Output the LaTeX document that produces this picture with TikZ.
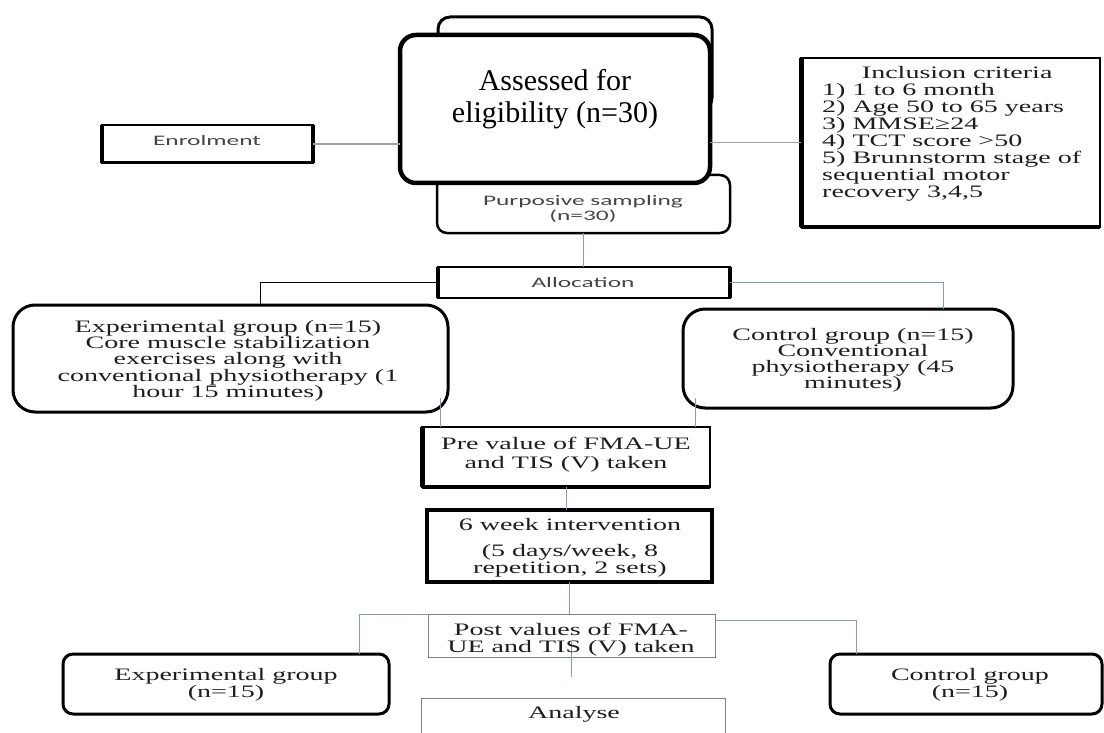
\documentclass[tikz,border=0pt]{standalone}
\usepackage{fontspec}
\setmainfont{Liberation Serif}
\newfontfamily\wser[FakeStretch=1.6]{Liberation Serif}
\newfontfamily\wsan[FakeStretch=1.75]{Carlito}
\newfontfamily\bigser{Liberation Serif}
\definecolor{linec}{HTML}{7F9CC0}
\definecolor{greyline}{HTML}{A0A0A0}
\definecolor{txt}{HTML}{1E1E1E}
\definecolor{stxt}{HTML}{454545}
\tikzset{
 bx/.style={draw=black, fill=white, inner sep=0pt, outer sep=0pt},
 rbx/.style={bx, rounded corners=#1},
 sertext/.style={font=\wser\fontsize{17.5}{16.5}\selectfont, text=txt, inner sep=0pt},
 santext/.style={font=\wsan\fontsize{14.5}{15}\selectfont, text=stxt, inner sep=0pt},
 conn/.style={draw=linec, line width=0.9pt},
 gconn/.style={draw=greyline, line width=1.2pt},
 kconn/.style={draw=black, line width=0.9pt},
}
\begin{document}
\begin{tikzpicture}[x=1pt,y=-1pt]
\useasboundingbox (0,0) rectangle (1104,733);
\fill[white] (0,0) rectangle (1104,733);

% boxes
\node[rbx=12pt, line width=3pt, minimum width=274pt, minimum height=93pt] (back) at (575,63.5) {};
\node[rbx=10pt, line width=2.5pt, minimum width=293pt, minimum height=58pt] (purp) at (583.5,204) {};
\node[rbx=16pt, line width=4.5pt, minimum width=310pt, minimum height=148pt] (front) at (555,109) {};
\node[bx, line width=2pt, minimum width=211pt, minimum height=38pt] (enrol) at (207.5,144) {};
\draw[line width=4pt] (enrol.north west) -- (enrol.south west);
\draw[line width=4pt] (enrol.north east) -- (enrol.south east);
\draw[line width=3pt] (enrol.south west) -- (enrol.south east);
\node[bx, line width=2pt, minimum width=299pt, minimum height=169pt] (incl) at (950.5,142.5) {};
\draw[line width=5pt] (incl.north west) -- (incl.south west);
\draw[line width=4pt] (incl.south west) -- (incl.south east);
\node[bx, line width=2pt, minimum width=292pt, minimum height=31pt] (alloc) at (584,282.5) {};
\draw[line width=4.5pt] (alloc.north west) -- (alloc.south west);
\draw[line width=4.5pt] (alloc.north east) -- (alloc.south east);
\node[rbx=22pt, line width=3pt, minimum width=435pt, minimum height=107pt] (expA) at (230.5,358.5) {};
\node[rbx=22pt, line width=3pt, minimum width=330pt, minimum height=99pt] (ctlA) at (848,358.5) {};
\node[bx, line width=2.5pt, minimum width=288pt, minimum height=60pt] (pre) at (566,457) {};
\draw[line width=5pt] (pre.north west) -- (pre.south west);
\draw[line width=3.5pt] (pre.south west) -- (pre.south east);
\node[bx, line width=3.5pt, minimum width=285pt, minimum height=72pt] (week) at (569.5,546) {};
\node[bx, draw=gray, line width=0.8pt, minimum width=287pt, minimum height=43pt] (post) at (571.5,635.5) {};
\node[bx, draw=gray, line width=0.8pt, minimum width=304pt, minimum height=62pt] (analyse) at (573,729) {};
\node[rbx=10pt, line width=3pt, minimum width=326pt, minimum height=60pt] (expB) at (226,684) {};
\node[rbx=10pt, line width=3pt, minimum width=272pt, minimum height=60pt] (ctlB) at (966,684) {};

% coordinates
\coordinate (eA) at (260,305);
\coordinate (cA) at (943,309);
\coordinate (ea) at (440,398);
\coordinate (ca) at (695,398);
\coordinate (pa) at (571,642);
\coordinate (pb) at (571,677);
\coordinate (eb) at (359,654);
\coordinate (pr) at (715,620);
\coordinate (cb) at (856,654);

% connectors
\draw[gconn] (enrol.east) -- (enrol.east -| front.west);
\draw[gconn] (front.east |- incl.west) -- (incl.west);
\draw[conn] (purp.south) -- (purp.south |- alloc.north);
\draw[kconn] (alloc.west) -| (eA);
\draw[conn] (alloc.east) -| (cA);
\draw[conn] (ea) -- (ea |- pre.north);
\draw[conn] (ca) -- (ca |- pre.north);
\draw[conn] (pre.south) -- (pre.south |- week.north);
\draw[conn] (week.south) -- (week.south |- post.north);
\draw[conn] (pa) -- (pb);
\draw[conn] (post.north west) -| (eb);
\draw[conn] (pr) -| (cb);

% texts
\node[font=\bigser\fontsize{30}{32.5}\selectfont, text=black, align=center, inner sep=0pt] (frontT) at (555,99) {Assessed for\\eligibility (n=30)};
\node[santext, anchor=base] (enrolT) at (207,146) {Enrolment};
\node[santext, align=center, anchor=north] (purpT) at (583,195) {Purposive sampling\\(n=30)};
\node[santext, anchor=base] (allocT) at (583,287) {Allocation};
\node[sertext, font=\wser\fontsize{17.5}{17}\selectfont, align=left, anchor=north west] (inclT) at (822,66)
 {\makebox[270pt][c]{Inclusion criteria}\\1) 1 to 6 month\\2) Age 50 to 65 years\\3) MMSE≥24\\4) TCT score >50\\5) Brunnstorm stage of\\sequential motor\\recovery 3,4,5};
\node[sertext, font=\wser\fontsize{17.5}{16.25}\selectfont, align=center, anchor=north] (expAT) at (228,320)
 {Experimental group (n=15)\\Core muscle stabilization\\exercises along with\\conventional physiotherapy (1\\hour 15 minutes)};
\node[sertext, font=\wser\fontsize{17.5}{16}\selectfont, align=center, anchor=north] (ctlAT) at (853,328)
 {Control group (n=15)\\Conventional\\physiotherapy (45\\minutes)};
\node[sertext, font=\wser\fontsize{17.5}{19}\selectfont, align=center, anchor=north] (preT) at (566,437)
 {Pre value of FMA-UE\\and TIS (V) taken};
\node[sertext, align=center, anchor=north] (weekT) at (570,518)
 {6 week intervention\\[10pt](5 days/week, 8\\repetition, 2 sets)};
\node[sertext, font=\wser\fontsize{17.5}{17}\selectfont, align=center, anchor=north] (postT) at (571,623)
 {Post values of FMA-\\UE and TIS (V) taken};
\node[sertext, anchor=base] (analyseT) at (574,718) {Analyse};
\node[sertext, font=\wser\fontsize{17.5}{17}\selectfont, align=center, anchor=north] (expBT) at (226,668)
 {Experimental group\\(n=15)};
\node[sertext, font=\wser\fontsize{17.5}{17}\selectfont, align=center, anchor=north] (ctlBT) at (970,668)
 {Control group\\(n=15)};
\end{tikzpicture}
\end{document}
